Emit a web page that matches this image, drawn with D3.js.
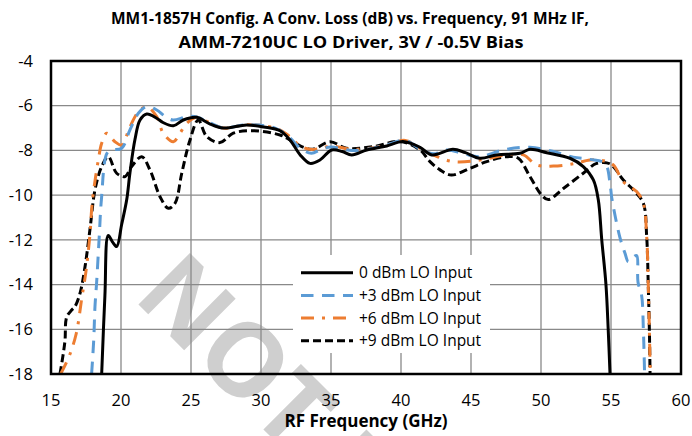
<!DOCTYPE html>
<html>
<head>
<meta charset="utf-8">
<script src="https://cdn.jsdelivr.net/npm/d3@7"></script>
<style>
body{margin:0;background:#fff;}
svg{display:block;font-family:"Open Sans",sans-serif;}
</style>
</head>
<body>
<svg id="chart" width="692" height="436"></svg>
<script>
// values, frequency in GHz, loss in dB
var freq0 = [18.62,18.85,19.09,19.4,19.69,20.05,20.41,20.64,21.0,21.36,21.84,22.55,23.0,23.74,24.45,25.41,26.3,27.29,28.98,30.2,31.36,32.07,32.8,33.5,34.21,35.05,35.8,36.48,37.55,38.98,40.14,41.36,42.2,43.71,44.6,45.64,46.84,48.5,49.21,50.41,52.07,53.02,53.74,54.09,54.34,54.64,54.8,54.93];
var loss0 = [-18,-14.5,-11.8,-12.1,-12.3,-11.3,-10.2,-9.0,-7.5,-6.64,-6.37,-6.56,-6.75,-6.9,-6.64,-6.52,-6.8,-7.0,-6.86,-6.95,-7.12,-7.53,-8.2,-8.58,-8.43,-7.98,-8.05,-8.2,-7.98,-7.8,-7.6,-7.86,-8.2,-7.95,-8.1,-8.35,-8.2,-8.13,-7.95,-8.1,-8.35,-8.72,-9.32,-10.2,-12.0,-14.0,-16.0,-18];

var freq3 = [17.9,18.05,18.14,18.26,18.45,18.6,19.0,19.33,20.05,20.64,21.24,21.84,22.55,23.1,23.7,24.7,25.4,26.3,27.3,29.0,31.0,32.0,32.8,33.6,34.3,35.0,36.5,38.0,39.0,40.3,41.4,42.3,43.3,44.5,45.6,47.3,49.2,50.9,52.3,53.5,54.57,54.93,55.05,55.64,56.0,56.24,56.55,56.83,56.93,57.19,57.31,57.36,57.4];
var loss3 = [-18,-16.5,-15,-13.9,-11.8,-10.2,-8.13,-7.98,-7.9,-7.08,-6.34,-6.04,-6.19,-6.45,-6.64,-6.49,-6.5,-6.75,-7.0,-6.85,-7.0,-7.4,-7.9,-8.13,-7.95,-7.85,-8.0,-7.9,-7.75,-7.55,-7.95,-8.15,-7.98,-8.15,-8.28,-7.98,-7.86,-8.05,-8.3,-8.4,-8.58,-9.47,-10.1,-11.9,-12.6,-12.98,-12.8,-12.7,-13.9,-14.5,-16.0,-17.0,-18];

var freq6 = [15.69,16.3,16.8,17.2,17.5,17.79,17.9,18.02,18.38,18.62,18.98,19.57,20.05,20.64,21.24,21.84,22.55,23.02,23.74,24.21,24.69,25.4,26.3,27.3,29.0,31.0,32.0,32.8,33.5,34.3,35.0,36.5,38.0,39.0,40.3,41.36,42.3,43.74,45.64,47.55,48.74,49.69,50.88,52.31,53.5,54.45,55.16,55.88,56.83,57.31,57.55,57.66,57.74,57.8];
var loss6 = [-18,-17.2,-16.2,-14.6,-13.4,-11.7,-10.66,-9.92,-8.43,-7.68,-7.23,-7.61,-7.76,-6.94,-6.27,-6.04,-6.49,-7.23,-7.61,-7.23,-6.79,-6.52,-6.75,-7.0,-6.85,-7.0,-7.35,-7.8,-7.95,-7.9,-7.8,-7.95,-7.88,-7.75,-7.55,-7.9,-8.2,-8.5,-8.43,-8.2,-8.2,-8.65,-8.7,-8.6,-8.43,-8.46,-8.65,-9.4,-9.84,-10.36,-11.86,-14,-16,-18];

var freq9 = [15.64,15.85,16.0,16.12,16.48,16.71,17.07,17.43,17.79,18.14,18.62,19.09,19.69,20.29,20.76,21.48,22.07,22.79,23.38,23.86,24.34,24.93,25.52,26.12,27.07,28.02,29.45,31.36,32.07,33.0,33.7,34.93,36.1,38.02,39.93,41.36,42.07,42.79,43.6,44.93,46.12,47.55,48.38,49.21,50.05,50.52,51.6,53.02,53.98,54.93,55.88,56.71,57.31,57.55,57.66,57.74,57.79];
var loss9 = [-18,-17.2,-16.5,-15.45,-15.14,-14.99,-14.4,-13.2,-11.5,-9.77,-8.72,-8.28,-9.02,-9.17,-8.72,-8.28,-8.87,-10.07,-10.59,-10.36,-9.02,-7.53,-6.64,-7.38,-7.65,-7.23,-7.12,-7.31,-7.53,-7.85,-7.95,-7.61,-7.9,-7.83,-7.6,-7.98,-8.5,-8.87,-9.1,-8.8,-8.5,-8.28,-8.35,-9.17,-10.0,-10.2,-9.7,-9.02,-8.58,-8.6,-9.32,-9.84,-10.36,-11.86,-14.0,-16.0,-18];

var seriesNames = ["0 dBm LO Input", "+3 dBm LO Input", "+6 dBm LO Input", "+9 dBm LO Input"];
var xTicks = [15,20,25,30,35,40,45,50,55,60];
var yTicks = [-4,-6,-8,-10,-12,-14,-16,-18];
var titleLines = ["MM1-1857H Config. A Conv. Loss (dB) vs. Frequency, 91 MHz IF,", "AMM-7210UC LO Driver, 3V / -0.5V Bias"];

var svg = d3.select("#chart");
var pLeft = 51, pRight = 681, pTop = 61, pBottom = 374;

var x = d3.scaleLinear().domain([15,60]).range([pLeft,pRight]);
var y = d3.scaleLinear().domain([-18,-4]).range([pBottom,pTop]);

// watermark, sits under everything
svg.append("text")
  .attr("transform","translate(132,298) rotate(45)")
  .attr("font-size",102).attr("font-weight","bold")
  .attr("fill","#cfcfcf")
  .text("NOT RECOMMENDED");

// grid
svg.append("g").selectAll("line").data(xTicks.slice(1,-1)).enter().append("line")
  .attr("x1",d => x(d)).attr("x2",d => x(d)).attr("y1",pTop).attr("y2",pBottom)
  .attr("stroke","#898989").attr("stroke-width",1.3);
svg.append("g").selectAll("line").data(yTicks.slice(1,-1)).enter().append("line")
  .attr("y1",d => y(d)).attr("y2",d => y(d)).attr("x1",pLeft).attr("x2",pRight)
  .attr("stroke","#898989").attr("stroke-width",1.3);

// series styles
var styles = [
  {color:"#000", dash:null},
  {color:"#5b9bd5", dash:"12.5,8.5"},
  {color:"#ed7d31", dash:"13,8,3,8"},
  {color:"#000", dash:"8,4"}
];
var series = [
  d3.zip(freq0, loss0),
  d3.zip(freq3, loss3),
  d3.zip(freq6, loss6),
  d3.zip(freq9, loss9)
];

var line = d3.line()
  .x(d => x(d[0])).y(d => y(d[1]))
  .curve(d3.curveCatmullRom.alpha(0.5));

var clip = svg.append("clipPath").attr("id","plotclip");
clip.append("rect").attr("x",pLeft).attr("y",pTop).attr("width",pRight-pLeft).attr("height",pBottom-pTop);

var plot = svg.append("g").attr("clip-path","url(#plotclip)");
// draw +9 first so the others lay on top like in the picture
[3,2,1,0].forEach(function(i){
  plot.append("path")
    .datum(series[i])
    .attr("d",line)
    .attr("fill","none")
    .attr("stroke",styles[i].color)
    .attr("stroke-width",3)
    .attr("stroke-dasharray",styles[i].dash);
});

// legend box
var lg = svg.append("g");
lg.append("rect").attr("x",293).attr("y",255).attr("width",197).attr("height",98).attr("fill","#fff");
seriesNames.forEach(function(name,i){
  var yy = 272.7 + i*22.7;
  lg.append("line").attr("x1",301).attr("x2",353).attr("y1",yy).attr("y2",yy)
    .attr("stroke",styles[i].color).attr("stroke-width",3)
    .attr("stroke-dasharray",styles[i].dash);
  lg.append("text").attr("x",359).attr("y",yy).attr("dy","0.35em")
    .attr("font-size",15.5).text(name);
});

// plot border
svg.append("rect").attr("x",pLeft).attr("y",pTop).attr("width",pRight-pLeft).attr("height",pBottom-pTop)
  .attr("fill","none").attr("stroke","#000").attr("stroke-width",2.5);

// tick labels
svg.append("g").selectAll("text").data(yTicks).enter().append("text")
  .attr("x",33).attr("y",d => y(d)).attr("dy","0.35em")
  .attr("text-anchor","end").attr("font-size",16.5)
  .text(d => d);
svg.append("g").selectAll("text").data(xTicks).enter().append("text")
  .attr("x",d => x(d)).attr("y",406)
  .attr("text-anchor","middle").attr("font-size",16.5)
  .text(d => d);

// titles
svg.append("text").attr("x",366).attr("y",427).attr("text-anchor","middle")
  .attr("font-size",17).attr("font-weight","bold").text("RF Frequency (GHz)");

svg.append("text").attr("x",350).attr("y",24).attr("text-anchor","middle")
  .attr("font-size",16.5).attr("font-weight","bold")
  .attr("textLength",478).attr("lengthAdjust","spacingAndGlyphs")
  .text(titleLines[0]);
svg.append("text").attr("x",351).attr("y",48).attr("text-anchor","middle")
  .attr("font-size",16.5).attr("font-weight","bold")
  .attr("textLength",345).attr("lengthAdjust","spacingAndGlyphs")
  .text(titleLines[1]);
</script>
</body>
</html>
